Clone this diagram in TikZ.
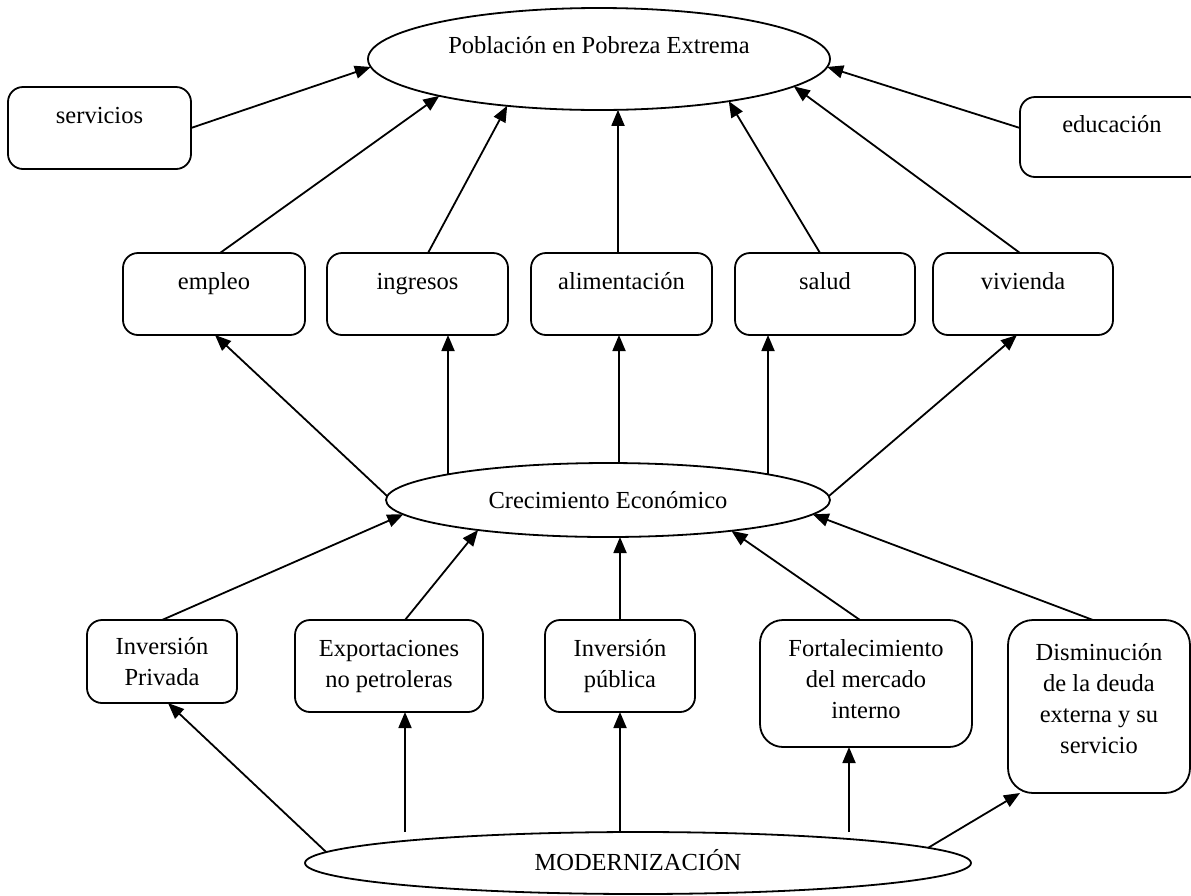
\documentclass[tikz,border=0pt]{standalone}
\usepackage{fontspec}
\setmainfont{Liberation Serif}
\usetikzlibrary{arrows.meta,shapes.geometric}
\begin{document}
\begin{tikzpicture}[x=1pt,y=-1pt,
  every node/.style={font=\fontsize{24.5}{31}\selectfont, outer sep=0pt, inner sep=0pt},
  boxnode/.style={draw, line width=1.8pt, rounded corners=15pt, rectangle},
  oneline/.style={text height=0pt, text depth=10pt},
  ovalnode/.style={draw, line width=1.8pt, ellipse},
  arr/.style={line width=1.8pt, -{Triangle[length=16pt,width=13pt]}}
]
\useasboundingbox (0,0) rectangle (1191,895);

% top
\node[ovalnode, minimum width=462pt, minimum height=102pt, text height=0pt, text depth=12pt] (pob) at (599,59) {Población en Pobreza Extrema};
\node[boxnode, oneline, minimum width=183pt, minimum height=82pt] (serv) at (99.5,128) {servicios};
\node[boxnode, oneline, minimum width=184pt, minimum height=80pt] (edu) at (1112,137) {educación};

% middle row
\node[boxnode, oneline, minimum width=182pt, minimum height=82pt] (empleo) at (214,294) {empleo};
\node[boxnode, oneline, minimum width=181pt, minimum height=82pt] (ingresos) at (417.5,294) {ingresos};
\node[boxnode, oneline, minimum width=181pt, minimum height=82pt] (alim) at (621.5,294) {alimentación};
\node[boxnode, oneline, minimum width=180pt, minimum height=82pt] (salud) at (825,294) {salud};
\node[boxnode, oneline, minimum width=180pt, minimum height=82pt] (viv) at (1023,294) {vivienda};

\node[ovalnode, minimum width=444pt, minimum height=74pt] (crec) at (608,500) {Crecimiento Económico};

% bottom row
\node[boxnode, align=center, minimum width=150pt, minimum height=83pt] (invpriv) at (162,661.5) {Inversión\\Privada};
\node[boxnode, align=center, minimum width=188pt, minimum height=92pt] (export) at (389,666) {Exportaciones\\no petroleras};
\node[boxnode, align=center, minimum width=150pt, minimum height=92pt] (invpub) at (620,666) {Inversión\\pública};
\node[boxnode, align=center, rounded corners=23pt, minimum width=212pt, minimum height=127pt] (fort) at (866,683.5) {Fortalecimiento\\del mercado\\interno\rule[-10pt]{0pt}{0pt}};
\node[boxnode, align=center, rounded corners=25pt, minimum width=182pt, minimum height=173pt] (dism) at (1099,706.5) {Disminución\\de la deuda\\externa y su\\servicio\rule[-17pt]{0pt}{0pt}};

\node[ovalnode, minimum width=666pt, minimum height=62pt, text height=14pt, text depth=0pt] (mod) at (638,863) {MODERNIZACIÓN};

% connectors to top ellipse
\draw[arr] (serv.east) -- (pob.182);
\draw[arr] ([yshift=9pt]edu.west) -- (pob.358);
\draw[arr] ([xshift=6pt]empleo.north) -- (pob.193);
\draw[arr] ([xshift=10.5pt]ingresos.north) -- (pob.207);
\coordinate (a1) at ([xshift=-3.5pt]alim.north);
\draw[arr] (a1) -- (a1 |- pob.290);
\draw[arr] ([xshift=-5pt]salud.north) -- (pob.342);
\draw[arr] ([xshift=-3pt]viv.north) -- (pob.352);

% connectors from Crecimiento to middle row
\draw[arr] (crec.179) -- ([xshift=1pt]empleo.south);
\coordinate (b2) at ([xshift=30.5pt]ingresos.south);
\draw[arr] (b2 |- crec.171) -- (b2);
\coordinate (b3) at ([xshift=-2.5pt]alim.south);
\draw[arr] (b3 |- crec.north) -- (b3);
\coordinate (b4) at ([xshift=-57pt]salud.south);
\draw[arr] (b4 |- crec.9) -- (b4);
\draw[arr] (crec.1) -- ([xshift=-6pt]viv.south);

% bottom row to Crecimiento
\draw[arr] (invpriv.north) -- (crec.184);
\draw[arr] ([xshift=16pt]export.north) -- (crec.193);
\draw[arr] (invpub.north) -- (invpub.north |- crec.south);
\draw[arr] ([xshift=-6pt]fort.north) -- (crec.346);
\draw[arr] ([xshift=-6pt]dism.north) -- (crec.356);

% MODERNIZACION to bottom row
\draw[arr] (mod.178) -- ([xshift=6pt]invpriv.south);
\coordinate (c2) at ([xshift=16pt]export.south);
\draw[arr] (c2 |- mod.north) -- (c2);
\draw[arr] (invpub.south |- mod.north) -- (invpub.south);
\coordinate (c4) at ([xshift=-17pt]fort.south);
\draw[arr] (c4 |- mod.north) -- (c4);
\draw[arr] (mod.3) -- ([xshift=-79pt]dism.south);
\end{tikzpicture}
\end{document}
